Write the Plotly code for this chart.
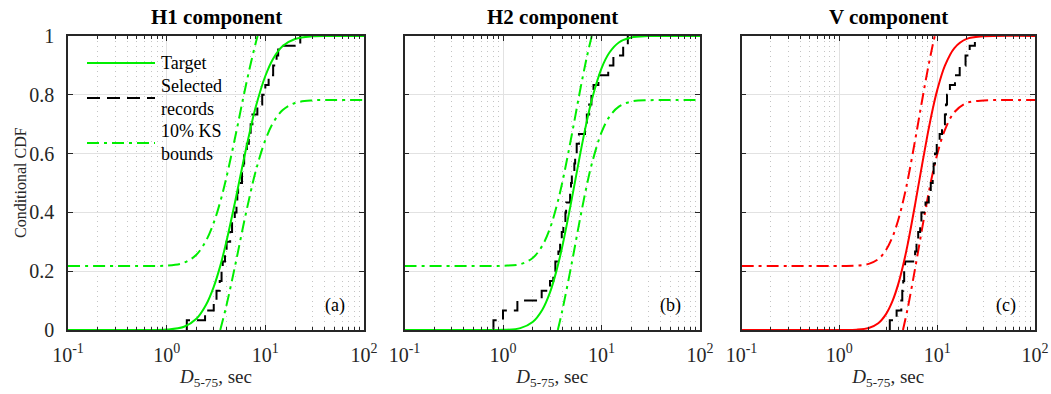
import numpy as np
import plotly.graph_objects as go

W, H = 1051, 394

# ---------------- data ----------------
# H1 component
h1_x = [0.1, 0.5, 1.0, 1.5, 2.0, 2.5, 3.0, 3.5, 4.0, 5.0, 6.0, 7.0, 8.0, 10, 12, 15, 20, 30, 50, 100]
h1_target = [0, 0, 0.0013, 0.011, 0.038, 0.085, 0.147, 0.219, 0.296, 0.445, 0.575, 0.678, 0.759,
             0.864, 0.923, 0.966, 0.990, 0.999, 1.0, 1.0]
h1_up_x = [0.1, 0.5, 1.0, 1.5, 2.0, 2.5, 3.0, 3.5, 4.0, 5.0, 6.0, 7.0, 8.0, 8.35]
h1_up = [0.218, 0.218, 0.219, 0.229, 0.256, 0.303, 0.365, 0.437, 0.514, 0.663, 0.793, 0.896, 0.977, 1.0]
h1_lo_x = [3.49, 4.0, 5.0, 6.0, 7.0, 8.0, 10, 12, 15, 20, 30, 50, 100]
h1_lo = [0, 0.078, 0.227, 0.357, 0.460, 0.541, 0.646, 0.705, 0.748, 0.772, 0.781, 0.782, 0.782]
h1_records = [1.6, 2.45, 3.0, 3.2, 3.45, 3.6, 3.7, 3.9, 4.05, 4.4, 4.6, 4.9, 5.1, 5.2, 5.3,
              5.8, 6.0, 6.1, 6.5, 6.8, 7.1, 7.4, 8.3, 9.3, 10.0, 10.8, 12.0, 13.0, 13.5, 22.6]

# H2 component
h2_x = [0.1, 0.5, 1.0, 1.5, 2.0, 2.5, 3.0, 3.5, 4.0, 5.0, 6.0, 7.0, 8.0, 10, 12, 15, 20, 30, 50, 100]
h2_target = [0, 0, 0.0005, 0.0063, 0.027, 0.068, 0.128, 0.203, 0.284, 0.447, 0.589, 0.701, 0.785,
             0.890, 0.943, 0.978, 0.995, 0.9996, 1.0, 1.0]
h2_up_x = [0.1, 0.5, 1.0, 1.5, 2.0, 2.5, 3.0, 3.5, 4.0, 5.0, 6.0, 7.0, 7.96]
h2_up = [0.218, 0.218, 0.2185, 0.224, 0.245, 0.286, 0.346, 0.421, 0.502, 0.665, 0.807, 0.919, 1.0]
h2_lo_x = [3.60, 4.0, 5.0, 6.0, 7.0, 8.0, 10, 12, 15, 20, 30, 50, 100]
h2_lo = [0, 0.066, 0.229, 0.371, 0.483, 0.567, 0.672, 0.725, 0.760, 0.777, 0.7816, 0.782, 0.782]
h2_records = [0.80, 1.00, 1.40, 2.47, 3.0, 3.24, 3.4, 3.65, 3.8, 3.95, 4.1, 4.3, 4.37, 4.8, 4.9,
              5.0, 5.3, 5.4, 5.6, 5.9, 6.8, 7.1, 7.5, 7.9, 8.3, 9.3, 11.7, 13.2, 16.6, 18.5]

# V component
v_x = [0.1, 1.0, 1.5, 2.0, 2.5, 3.0, 3.5, 4.0, 4.5, 5.0, 6.0, 7.0, 8.0, 9.0, 10, 12, 15, 20, 30, 100]
v_target = [0, 0.0001, 0.0011, 0.007, 0.023, 0.054, 0.099, 0.156, 0.222, 0.292, 0.434, 0.561,
            0.667, 0.751, 0.815, 0.899, 0.959, 0.990, 0.999, 1.0]
v_up_x = [0.1, 1.0, 1.5, 2.0, 2.5, 3.0, 3.5, 4.0, 4.5, 5.0, 6.0, 7.0, 8.0, 9.0, 9.45]
v_up = [0.218, 0.218, 0.219, 0.225, 0.241, 0.272, 0.317, 0.374, 0.440, 0.510, 0.652, 0.779,
        0.885, 0.969, 1.0]
v_lo_x = [4.47, 5.0, 6.0, 7.0, 8.0, 9.0, 10, 12, 15, 20, 30, 50, 100]
v_lo = [0, 0.074, 0.216, 0.343, 0.449, 0.533, 0.597, 0.681, 0.741, 0.772, 0.781, 0.782, 0.782]
v_records = [3.28, 3.85, 4.3, 4.4, 4.5, 4.6, 4.7, 5.95, 6.15, 6.4, 6.7, 6.9, 7.6, 8.2, 8.6,
             9.0, 9.2, 9.5, 9.9, 10.6, 11.2, 12.0, 12.3, 12.6, 13.5, 15.2, 17.0, 19.5, 21.5, 24.3]

panel_titles = ["H1 component", "H2 component", "V component"]
panel_tags = ["(a)", "(b)", "(c)"]
ytick_vals = [0, 0.2, 0.4, 0.6, 0.8, 1.0]
ytick_text = ["0", "0.2", "0.4", "0.6", "0.8", "1"]
xtick_vals = [0.1, 1, 10, 100]
xtick_text = ["10<sup>-1</sup>", "10<sup>0</sup>", "10<sup>1</sup>", "10<sup>2</sup>"]
legend_labels = ["Target", "Selected<br>records", "10% KS<br>bounds"]
y_label = "Conditional CDF"
x_label = "<i>D</i><sub>5-75</sub>, sec"

# ---------------- styling ----------------
GREEN = "#00ee00"
RED = "#ff0000"
BLACK = "#000000"
AX = "#262626"
FONT = "Liberation Serif"
LW = 2
DASH = "13px,7px"
DASHDOT = "12px,5px,3px,5px"

panels = [
    dict(x=h1_x, t=h1_target, ux=h1_up_x, u=h1_up, lx=h1_lo_x, l=h1_lo, rec=h1_records, c=GREEN),
    dict(x=h2_x, t=h2_target, ux=h2_up_x, u=h2_up, lx=h2_lo_x, l=h2_lo, rec=h2_records, c=GREEN),
    dict(x=v_x, t=v_target, ux=v_up_x, u=v_up, lx=v_lo_x, l=v_lo, rec=v_records, c=RED),
]

left_px = [68, 404.5, 741.5]
right_px = [364, 700, 1035]
top_px, bot_px = 36, 330
ydom = [1 - bot_px / H, 1 - top_px / H]

minor_vals = [m * 10.0 ** e for e in (-1, 0, 1) for m in range(2, 10)]

fig = go.Figure()

for k, p in enumerate(panels):
    xa = "x" if k == 0 else f"x{k+1}"
    ya = "y" if k == 0 else f"y{k+1}"
    fig.add_trace(go.Scatter(x=p["ux"], y=p["u"], mode="lines", xaxis=xa, yaxis=ya,
                             line=dict(color=p["c"], width=LW, dash=DASHDOT, shape="spline"),
                             showlegend=False, hoverinfo="skip"))
    fig.add_trace(go.Scatter(x=p["lx"], y=p["l"], mode="lines", xaxis=xa, yaxis=ya,
                             line=dict(color=p["c"], width=LW, dash=DASHDOT, shape="spline"),
                             showlegend=False, hoverinfo="skip"))
    rec = sorted(p["rec"])
    n = len(rec)
    sx = [rec[0]] + rec
    sy = [0.0] + [i / n for i in range(1, n + 1)]
    fig.add_trace(go.Scatter(x=sx, y=sy, mode="lines", xaxis=xa, yaxis=ya,
                             line=dict(color=BLACK, width=LW, dash=DASH, shape="hv"),
                             showlegend=False, hoverinfo="skip"))
    fig.add_trace(go.Scatter(x=p["x"], y=p["t"], mode="lines", xaxis=xa, yaxis=ya,
                             line=dict(color=p["c"], width=LW, shape="spline"),
                             showlegend=False, hoverinfo="skip"))

axis_common = dict(
    ticks="inside", tickcolor=AX, tickwidth=1,
    showline=True, linecolor=AX, linewidth=1.5, mirror="ticks",
    showgrid=True, gridcolor="#e2e2e2", gridwidth=1, zeroline=False,
    tickfont=dict(family=FONT, size=20, color=AX), automargin=False,
)

layout = dict(
    width=W, height=H, margin=dict(l=0, r=0, t=0, b=0),
    paper_bgcolor="white", plot_bgcolor="white",
    showlegend=False, font=dict(family=FONT, color=AX),
)

for k in range(3):
    xs = "xaxis" if k == 0 else f"xaxis{k+1}"
    ys = "yaxis" if k == 0 else f"yaxis{k+1}"
    xa_anchor = "y" if k == 0 else f"y{k+1}"
    ya_anchor = "x" if k == 0 else f"x{k+1}"
    layout[xs] = dict(
        axis_common, type="log", range=[-1, 2], anchor=xa_anchor,
        domain=[left_px[k] / W, right_px[k] / W],
        tickmode="array", tickvals=xtick_vals, ticktext=xtick_text, ticklen=5,
        ticklabelstandoff=6,
        minor=dict(tickmode="array", tickvals=minor_vals, ticks="inside", ticklen=3,
                   tickcolor=AX, showgrid=True, gridcolor="#c4c4c4", griddash="1px,4px",
                   gridwidth=1),
        title=dict(text=x_label, font=dict(family=FONT, size=19, color=AX), standoff=5),
    )
    layout[ys] = dict(
        axis_common, range=[0, 1], anchor=ya_anchor, domain=ydom,
        tickmode="array", tickvals=ytick_vals, ticktext=ytick_text, ticklen=5,
        showticklabels=(k == 0), ticklabelstandoff=8,
    )

annotations = []
annotations.append(dict(text=y_label, x=20 / W, y=1 - 183 / H, xref="paper", yref="paper",
                        showarrow=False, textangle=-90, xanchor="center", yanchor="middle",
                        font=dict(family=FONT, size=16, color=AX)))
for k in range(3):
    cx = (left_px[k] + right_px[k]) / 2 / W
    annotations.append(dict(text=f"<b>{panel_titles[k]}</b>", x=cx, y=1 - 17 / H,
                            xref="paper", yref="paper", showarrow=False,
                            xanchor="center", yanchor="middle",
                            font=dict(family=FONT, size=21, color="black")))
    annotations.append(dict(text=panel_tags[k], x=(right_px[k] - 17) / W, y=1 - 305 / H,
                            xref="paper", yref="paper", showarrow=False,
                            xanchor="right", yanchor="middle",
                            font=dict(family=FONT, size=18, color="black")))

leg_y = [63, 98, 143]
leg_style = [dict(color=GREEN, width=LW), dict(color=BLACK, width=LW, dash=DASH),
             dict(color=GREEN, width=LW, dash=DASHDOT)]
shapes = []
for lbl, yy, st in zip(legend_labels, leg_y, leg_style):
    shapes.append(dict(type="line", xref="paper", yref="paper",
                       x0=87 / W, x1=155 / W, y0=1 - yy / H, y1=1 - yy / H, line=st))
    annotations.append(dict(text=lbl, x=159 / W, y=1 - yy / H, xref="paper", yref="paper",
                            showarrow=False, xanchor="left", yanchor="middle", align="left",
                            font=dict(family=FONT, size=18, color="black")))

layout["annotations"] = annotations
layout["shapes"] = shapes
fig.update_layout(**layout)

fig.write_html("out.html")
